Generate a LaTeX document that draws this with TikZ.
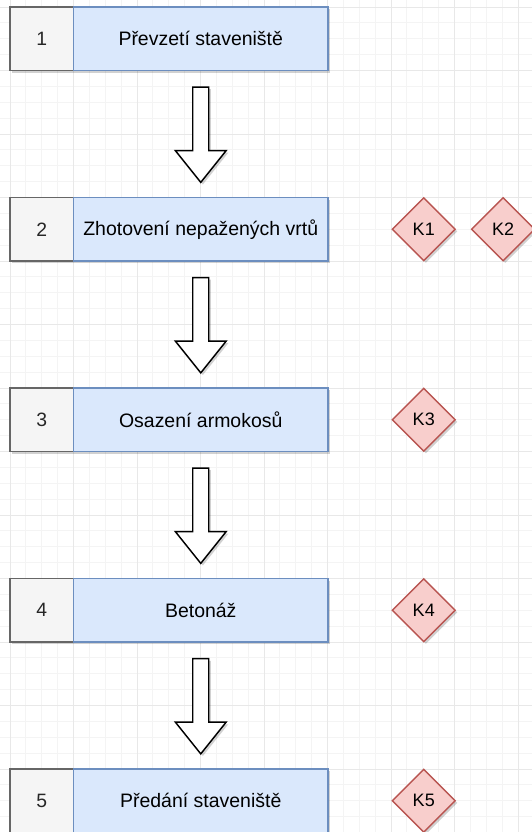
\documentclass[tikz,border=0pt]{standalone}
\usepackage{fontspec}
\setmainfont{Liberation Sans}
\usetikzlibrary{shapes.geometric,shadows,calc}
\definecolor{gridminor}{HTML}{F4F4F4}
\definecolor{gridmajor}{HTML}{E8E8E8}
\definecolor{numfill}{HTML}{F5F5F5}
\definecolor{numdraw}{HTML}{666666}
\definecolor{stepfill}{HTML}{DAE8FC}
\definecolor{stepdraw}{HTML}{6C8EBF}
\definecolor{kfill}{HTML}{F8CECC}
\definecolor{kdraw}{HTML}{B85450}
\begin{document}
\begin{tikzpicture}[x=0.75pt,y=-0.75pt,
  shadowed/.style={drop shadow={shadow xshift=1.6pt,shadow yshift=-1.6pt,opacity=0.18,fill=black}},
  numbox/.style={shadowed,draw=numdraw,fill=numfill,line width=1.1pt,minimum width=47.625pt,minimum height=47.625pt,inner sep=0pt,text=black!85,font=\fontsize{14.5}{17}\selectfont},
  stepbox/.style={shadowed,draw=stepdraw,fill=stepfill,line width=1.1pt,minimum width=190.875pt,minimum height=47.625pt,inner sep=0pt,text=black,font=\fontsize{14.6}{17}\selectfont},
  kbox/.style={shadowed,diamond,aspect=1,draw=kdraw,fill=kfill,line width=1.1pt,minimum width=47.625pt,minimum height=47.625pt,inner sep=0pt,text=black,font=\fontsize{13.5}{16}\selectfont},
  blockarrow/.style={shadowed,draw=black,fill=white,line width=1.1pt,line join=miter},
  gminor/.style={draw=gridminor,line width=0.6pt},
  gmajor/.style={draw=gridmajor,line width=0.7pt}]
\clip (0,0) rectangle (532,832);
\fill[white] (0,0) rectangle (532,832);
% grid
\foreach \k in {0,...,32} \draw[gminor] ({10+\k*15.875},0) -- ++(0,832);
\foreach \k in {0,...,52} \draw[gminor] (0,{7+\k*15.875}) -- ++(532,0);
\foreach \k in {0,...,8} \draw[gmajor] ({10+\k*63.5},0) -- ++(0,832);
\foreach \k in {0,...,13} \draw[gmajor] (0,{7+\k*63.5}) -- ++(532,0);
% steps
\node[numbox] (n1) at (41.75,38.75) {1};
\node[stepbox] (s1) at (200.75,38.75) {Převzetí staveniště};
\node[numbox] (n2) at (41.75,229.25) {2};
\node[stepbox] (s2) at (200.75,229.25) {Zhotovení nepažených vrtů};
\node[numbox] (n3) at (41.75,419.75) {3};
\node[stepbox] (s3) at (200.75,419.75) {Osazení armokosů};
\node[numbox] (n4) at (41.75,610.25) {4};
\node[stepbox] (s4) at (200.75,610.25) {Betonáž};
\node[numbox] (n5) at (41.75,800.75) {5};
\node[stepbox] (s5) at (200.75,800.75) {Předání staveniště};
% checks
\node[kbox] (k1) at (423.75,229.25) {K1};
\node[kbox] (k2) at (503.125,229.25) {K2};
\node[kbox] (k3) at (423.75,419.75) {K3};
\node[kbox] (k4) at (423.75,610.25) {K4};
\node[kbox] (k5) at (423.75,800.75) {K5};
% block arrows
\foreach \s in {s1,s2,s3,s4}
  \draw[blockarrow] ($(\s.south)+(-8,15.875)$) -- ($(\s.south)+(8,15.875)$)
    -- ($(\s.south)+(8,79.375)$) -- ($(\s.south)+(25.4,79.375)$)
    -- ($(\s.south)+(0,111.125)$) -- ($(\s.south)+(-25.4,79.375)$)
    -- ($(\s.south)+(-8,79.375)$) -- cycle;
\end{tikzpicture}
\end{document}
